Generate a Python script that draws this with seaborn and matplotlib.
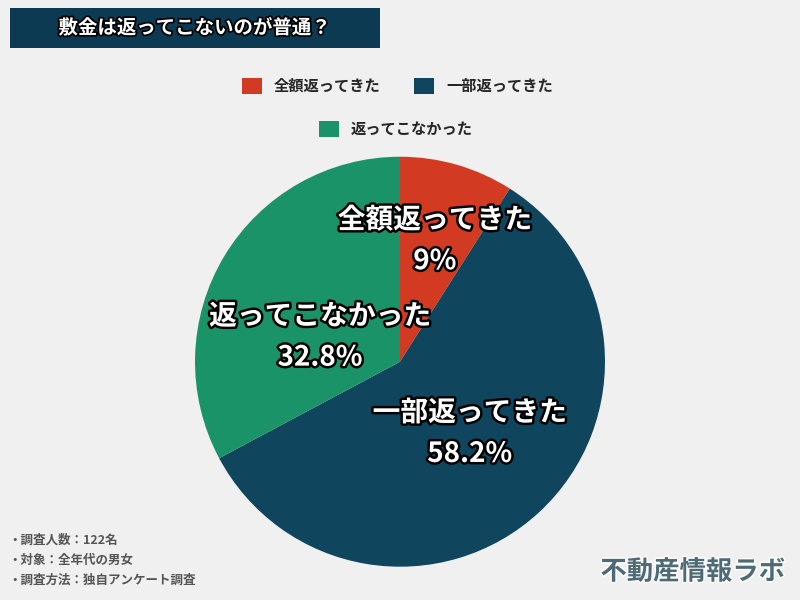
import matplotlib
matplotlib.use("Agg")
import matplotlib.pyplot as plt
import matplotlib.patheffects as pe
from matplotlib.patches import Patch, Rectangle
import seaborn as sns

# データ
categories = ["全額返ってきた", "一部返ってきた", "返ってこなかった"]
values = [9.0, 58.2, 32.8]
value_labels = ["9%", "58.2%", "32.8%"]
colors = ["#D23A22", "#10455E", "#1A9369"]
title = "敷金は返ってこないのが普通？"
notes = ["・調査人数：122名", "・対象：全年代の男女", "・調査方法：独自アンケート調査"]
brand = "不動産情報ラボ"

sns.set_theme(style="white")
plt.rcParams["font.family"] = ["Noto Sans CJK JP", "DejaVu Sans"]

bg = "#F0F0F0"
fig = plt.figure(figsize=(8, 6), dpi=100, facecolor=bg)

# タイトルボックス
fig.patches.append(Rectangle((10 / 800, 1 - 48 / 600), 370 / 800, 40 / 600,
                             transform=fig.transFigure, facecolor="#0B3A52",
                             edgecolor="none", zorder=0))
fig.text(195 / 800, 1 - 28 / 600, title, ha="center", va="center", color="white",
         fontsize=14, fontweight="bold",
         path_effects=[pe.withStroke(linewidth=2.5, foreground="black")])

# 円グラフ
ax = fig.add_axes([0.24375, 0.0555, 0.5125, 0.6833])
ax.set_facecolor(bg)
ax.pie(values, colors=colors, startangle=90, counterclock=False,
       wedgeprops=dict(linewidth=0))
ax.set_xlim(-1, 1)
ax.set_ylim(-1, 1)
ax.set_aspect("equal")
ax.axis("off")

# ラベル位置（軸座標）
label_xy = [(0.17, 0.59), (0.34, -0.35), (-0.39, 0.12)]
stroke = [pe.withStroke(linewidth=3.5, foreground="black")]
for name, pct, (x, y) in zip(categories, value_labels, label_xy):
    ax.text(x, y + 0.1, name, ha="center", va="center", color="white",
            fontsize=20, fontweight="bold", path_effects=stroke)
    ax.text(x, y - 0.1, pct, ha="center", va="center", color="white",
            fontsize=20, fontweight="bold", path_effects=stroke)

# 凡例
handles = [Patch(facecolor=c, edgecolor="none") for c in colors]
leg_kw = dict(frameon=False, handlelength=1.3, handleheight=1.3,
              handletextpad=0.8, columnspacing=2.2,
              prop={"size": 11, "weight": "bold"})
fig.legend(handles[:2], categories[:2], ncol=2, loc="center",
           bbox_to_anchor=(0.497, 1 - 86 / 600), **leg_kw)
fig.legend(handles[2:], categories[2:], ncol=1, loc="center",
           bbox_to_anchor=(0.495, 1 - 129 / 600), **leg_kw)

# 注記
for i, note in enumerate(notes):
    fig.text(8 / 800, 1 - (540 + i * 20) / 600, note, ha="left", va="center",
             color="#555555", fontsize=9, fontweight="bold")

fig.text(785 / 800, 1 - 572 / 600, brand, ha="right", va="center",
         color="#4E6A75", fontsize=19, fontweight="bold",
         path_effects=[pe.withStroke(linewidth=2, foreground="#FFFFFF")])

fig.savefig("out.png", dpi=100, facecolor=bg)
